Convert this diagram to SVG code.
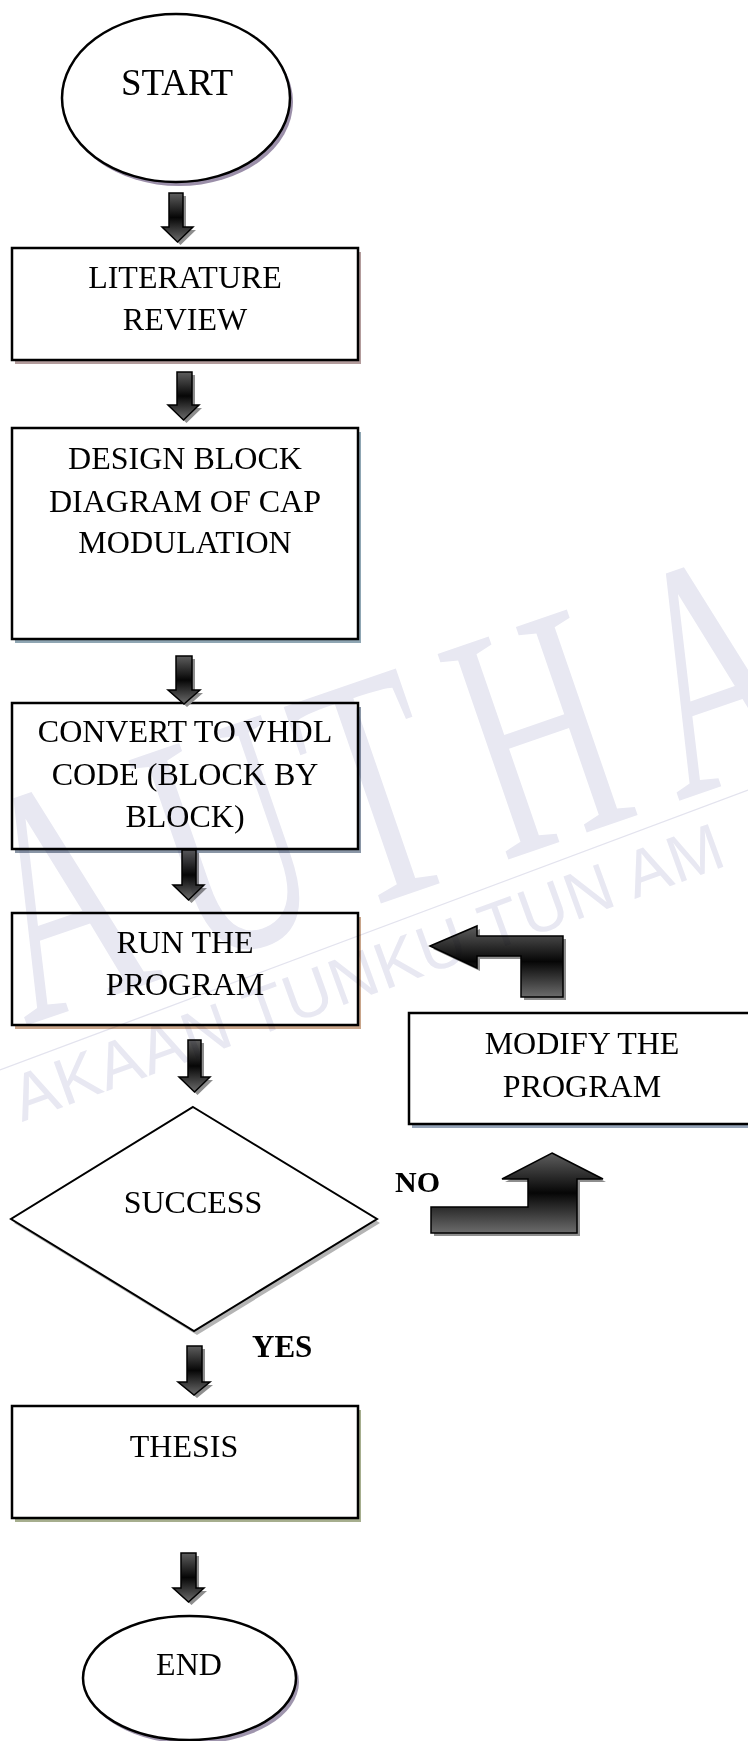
<svg xmlns="http://www.w3.org/2000/svg" xmlns:xlink="http://www.w3.org/1999/xlink" width="748" height="1741" viewBox="0 0 748 1741">
<style>
.box{fill:#fff;stroke:#000;stroke-width:2.5}
.t{font-family:"Liberation Serif","Times New Roman",serif;font-size:32px;text-anchor:middle;fill:#000}
.b{font-weight:bold;text-anchor:start;font-size:31px}
.arr{fill:url(#ag);stroke:#000;stroke-width:1.5;stroke-linejoin:miter}
.ash{fill:#8e8e8e}
.wm{fill:#e8e8f2}
.wb{font-family:"Liberation Serif","Times New Roman",serif;font-size:332px}
</style>
<defs>
<linearGradient id="ag" x1="0" y1="0" x2="0" y2="1">
<stop offset="0" stop-color="#5e5e5e"/>
<stop offset="0.5" stop-color="#060606"/>
<stop offset="1" stop-color="#6c6c6c"/>
</linearGradient>
<path id="a1" d="M169,193 H183 V227 H193 L177.5,242 L162,227 H169 Z"/>
<path id="a2" d="M177,372 H192 V405 H199 L183.5,420 L168,405 H177 Z"/>
<path id="a3" d="M176,656 H192 V690 H200 L184,704 L168,690 H176 Z"/>
<path id="a4" d="M182,850 H196 V885 H204 L188.5,900 L173,885 H182 Z"/>
<path id="a5" d="M188,1040 H201 V1077 H210 L194.5,1092 L179,1077 H188 Z"/>
<path id="a6" d="M187,1346 H202 V1382 H210 L194,1395 L178,1382 H187 Z"/>
<path id="a7" d="M181,1553 H196 V1588 H204 L188.5,1602 L173,1588 H181 Z"/>
<path id="a8" d="M430,946 L477,926 V936 H563 V997 H521 V956 H477 V968 Z"/>
<path id="a9" d="M552,1153 L603,1179 H577 V1233 H431 V1207 H528 V1179 H502 Z"/>
</defs>
<rect width="748" height="1741" fill="#fff"/>

<g id="start">
<ellipse cx="179" cy="102" rx="114" ry="84" fill="#9b8fa9"/>
<ellipse cx="176" cy="98" rx="114" ry="84" class="box"/>
<text class="t" x="177" y="95" style="font-size:37px">START</text>
</g>

<g id="literature">
<rect x="15" y="252" width="346" height="112" fill="#b39c9c"/>
<rect x="12" y="248" width="346" height="112" class="box"/>
<text class="t" x="185" y="288">LITERATURE</text>
<text class="t" x="185" y="330">REVIEW</text>
</g>

<g id="design">
<rect x="15" y="432" width="346" height="211" fill="#8fa6b3"/>
<rect x="12" y="428" width="346" height="211" class="box"/>
<text class="t" x="185" y="469">DESIGN BLOCK</text>
<text class="t" x="185" y="512">DIAGRAM OF CAP</text>
<text class="t" x="185" y="553">MODULATION</text>
</g>

<g id="convert">
<rect x="15" y="707" width="346" height="146" fill="#8a96a6"/>
<rect x="12" y="703" width="346" height="146" class="box"/>
<text class="t" x="185" y="742">CONVERT TO VHDL</text>
<text class="t" x="185" y="785">CODE (BLOCK BY</text>
<text class="t" x="185" y="827">BLOCK)</text>
</g>

<g id="run">
<rect x="15" y="917" width="346" height="112" fill="#c9a58a"/>
<rect x="12" y="913" width="346" height="112" class="box"/>
<text class="t" x="185" y="953">RUN THE</text>
<text class="t" x="185" y="995">PROGRAM</text>
</g>

<g id="modify">
<rect x="412" y="1017" width="345" height="111" fill="#95a4b8"/>
<rect x="409" y="1013" width="345" height="111" class="box"/>
<text class="t" x="582" y="1054">MODIFY THE</text>
<text class="t" x="582" y="1097">PROGRAM</text>
</g>

<g id="success">
<polygon points="196,1111 380,1223 197,1335 14,1223" fill="#b4b4b4"/>
<polygon points="193,1107 377,1219 194,1331 11,1219" fill="#fff" stroke="#000" stroke-width="2"/>
<text class="t" x="193" y="1213">SUCCESS</text>
</g>

<g id="thesis">
<rect x="15" y="1410" width="346" height="112" fill="#a6ae8e"/>
<rect x="12" y="1406" width="346" height="112" class="box"/>
<text class="t" x="184" y="1457">THESIS</text>
</g>

<g id="end">
<ellipse cx="192.5" cy="1682" rx="106.5" ry="62" fill="#9f95ad"/>
<ellipse cx="189.5" cy="1678" rx="106.5" ry="62" class="box"/>
<text class="t" x="189" y="1675">END</text>
</g>

<g id="connectors">
<use xlink:href="#a1" href="#a1" class="ash" transform="translate(3,3)"/>
<use xlink:href="#a1" href="#a1" class="arr"/>
<use xlink:href="#a2" href="#a2" class="ash" transform="translate(3,3)"/>
<use xlink:href="#a2" href="#a2" class="arr"/>
<use xlink:href="#a3" href="#a3" class="ash" transform="translate(3,3)"/>
<use xlink:href="#a3" href="#a3" class="arr"/>
<use xlink:href="#a4" href="#a4" class="ash" transform="translate(3,3)"/>
<use xlink:href="#a4" href="#a4" class="arr"/>
<use xlink:href="#a5" href="#a5" class="ash" transform="translate(3,3)"/>
<use xlink:href="#a5" href="#a5" class="arr"/>
<use xlink:href="#a6" href="#a6" class="ash" transform="translate(3,3)"/>
<use xlink:href="#a6" href="#a6" class="arr"/>
<use xlink:href="#a7" href="#a7" class="ash" transform="translate(3,3)"/>
<use xlink:href="#a7" href="#a7" class="arr"/>
<use xlink:href="#a8" href="#a8" class="ash" transform="translate(3,3)"/>
<use xlink:href="#a8" href="#a8" class="arr"/>
<use xlink:href="#a9" href="#a9" class="ash" transform="translate(3,3)"/>
<use xlink:href="#a9" href="#a9" class="arr"/>
<text class="t b" x="395" y="1192" style="font-size:30px">NO</text>
<text class="t b" x="252" y="1357">YES</text>
</g>

<g id="watermark" style="mix-blend-mode:multiply">
<g transform="translate(25,1026) rotate(-19) scale(0.62,1)">
<text class="wm wb" x="0">A</text>
<text class="wm wb"><tspan x="290">U</tspan><tspan x="556">T</tspan><tspan x="815">H</tspan></text>
<text class="wm wb" x="1113">A</text>
</g>
<line x1="0" y1="1070" x2="748" y2="790" stroke="#e3e3ee" stroke-width="1.3"/>
<text class="wm" transform="translate(22,1122) rotate(-20)" style="font-family:'Liberation Sans',Arial,sans-serif;font-size:66px;letter-spacing:1px">AKAAN TUNKU TUN AM</text>
</g>
</svg>
